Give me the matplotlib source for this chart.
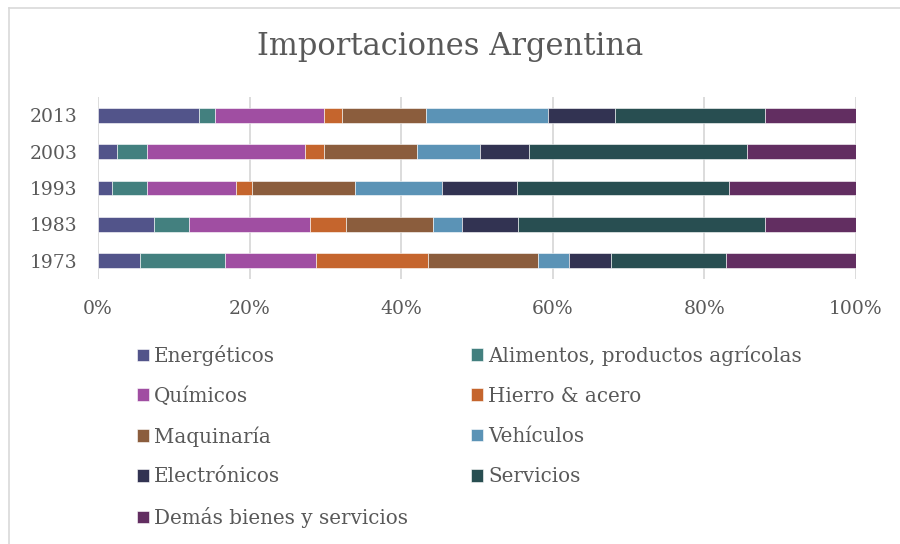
import numpy as np
import matplotlib
matplotlib.use("Agg")
import matplotlib.pyplot as plt
from matplotlib.lines import Line2D

years = ["1973", "1983", "1993", "2003", "2013"]
categories = ["Energéticos", "Alimentos, productos agrícolas", "Químicos",
              "Hierro & acero", "Maquinaría", "Vehículos", "Electrónicos",
              "Servicios", "Demás bienes y servicios"]
# shares in % per year (1973, 1983, 1993, 2003, 2013)
energeticos = [5.5, 7.4, 1.8, 2.5, 13.3]
alimentos = [11.2, 4.6, 4.6, 4.0, 2.2]
quimicos = [12.1, 16.0, 11.8, 20.9, 14.4]
hierro = [14.8, 4.7, 2.1, 2.5, 2.4]
maquinaria = [14.5, 11.5, 13.6, 12.3, 11.0]
vehiculos = [4.1, 3.8, 11.4, 8.3, 16.1]
electronicos = [5.5, 7.4, 10.0, 6.4, 8.9]
servicios = [15.2, 32.6, 27.9, 28.8, 19.8]
demas = [17.1, 11.9, 16.7, 14.4, 12.0]
x_ticks = ["0%", "20%", "40%", "60%", "80%", "100%"]

colors = ["#52548a", "#43807f", "#a04ea2", "#c5652d", "#8b5d3d",
          "#5b93b6", "#323352", "#284e51", "#622e61"]

series = [energeticos, alimentos, quimicos, hierro, maquinaria,
          vehiculos, electronicos, servicios, demas]
data = np.array(series, dtype=float)
data = data / data.sum(axis=0) * 100  # normalise to 100%

text_col = "#595959"
plt.rcParams["font.family"] = ["DejaVu Serif"]

fig = plt.figure(figsize=(9, 5.44), dpi=100)
ax = fig.add_axes([98 / 900, 1 - 279 / 544, (855.7 - 98) / 900, (279 - 97) / 544])

ypos = np.arange(len(years))
left = np.zeros(len(years))
handles = []
for i, vals in enumerate(data):
    b = ax.barh(ypos, vals, left=left, height=0.41, color=colors[i],
                edgecolor="#ffffff", linewidth=0.4, label=categories[i], zorder=3)
    handles.append(b)
    left += vals
# end for

ax.set_xlim(0, 100)
ax.set_ylim(-0.5, 4.5)
ax.set_xticks(np.linspace(0, 100, 6))
ax.set_xticklabels(x_ticks)
ax.set_yticks(ypos)
ax.set_yticklabels(years)
ax.tick_params(axis="both", length=0, labelsize=13.5, colors=text_col)
ax.tick_params(axis="x", pad=15)
ax.tick_params(axis="y", pad=15)
ax.grid(axis="x", color="#d9d9d9", linewidth=1.3, zorder=0)
for s in ax.spines.values():
    s.set_visible(False)
# end for

fig.text(0.5, 1 - 46 / 544, "Importaciones Argentina", ha="center", va="center",
         fontsize=22, color=text_col)

# legend: Excel fills row by row (2 columns), one small legend per entry
# so that the rows keep an even spacing
leg_kw = dict(frameon=False, fontsize=14.3, labelcolor=text_col, handlelength=0.6,
              handleheight=0.6, handletextpad=0.25, borderpad=0,
              borderaxespad=0, loc="center left")
col_x = [137, 471]
row_y0 = 355.5
row_step = 40.5
for i, name in enumerate(categories):
    row = i // 2
    col = i % 2
    fig.legend([handles[i]], [name],
               bbox_to_anchor=(col_x[col] / 900, 1 - (row_y0 + row * row_step) / 544),
               **leg_kw)
# end for

# light frame around chart area
fig.add_artist(Line2D([9 / 900, 9 / 900], [0, 1 - 8 / 544], color="#d9d9d9",
                      linewidth=1.2, transform=fig.transFigure))
fig.add_artist(Line2D([9 / 900, 1], [1 - 8 / 544, 1 - 8 / 544], color="#d9d9d9",
                      linewidth=1.2, transform=fig.transFigure))

fig.savefig("out.png", dpi=100)
